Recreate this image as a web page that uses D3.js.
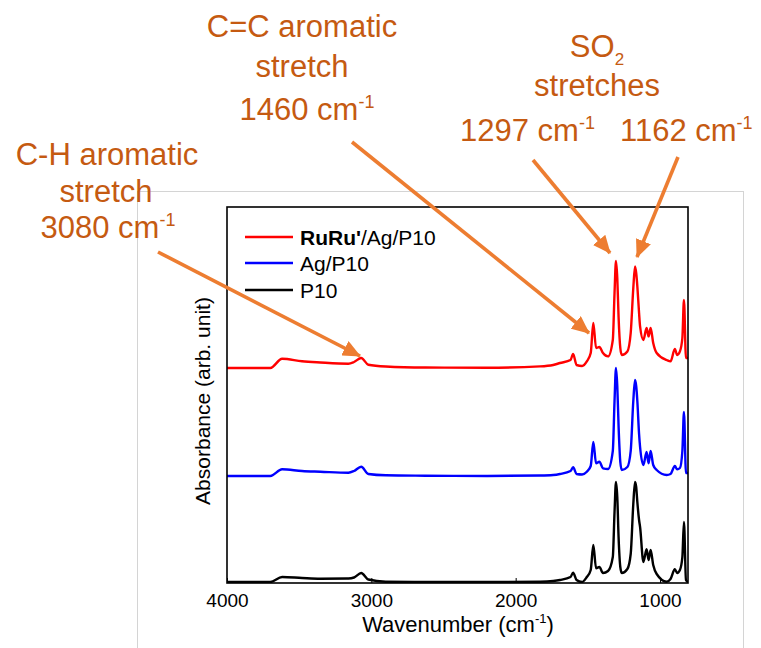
<!DOCTYPE html>
<html>
<head>
<meta charset="utf-8">
<script src="https://cdn.jsdelivr.net/npm/d3@7"></script>
<style>
  body { margin: 0; background: #fff; }
  svg text { font-family: "Liberation Sans", Arial, sans-serif; }
</style>
</head>
<body>
<div id="vis"></div>
<script>
// wavenumbers (cm-1) shared by the three spectra
var wavenumber = [4000, 3700, 3618, 3480, 3353, 3159, 3120, 3070, 3021, 2900, 2626, 2200,
  1831, 1740, 1693, 1620, 1602, 1578, 1540, 1507, 1480, 1462, 1443, 1420, 1395, 1360,
  1327, 1315, 1305, 1296, 1287, 1275, 1265, 1226, 1203, 1185, 1173, 1165, 1157, 1145,
  1138, 1115, 1093, 1079, 1065, 1047, 1023, 954, 927, 897, 881, 862, 845, 834, 820, 806];

// absorbance (arb. unit), before stacking
var ruru = [0, 0, 9.3, 6.7, 5.5, 4.3, 6, 10, 3.3, 1.5, 0.5, 0.3,
  1.6, 3, 5, 8, 14, 3, 2, 6.6, 15, 45, 20, 21, 15, 11.6,
  28, 75, 107, 90, 51, 20, 13, 16.6, 35, 80, 101.6, 95, 81.6, 55,
  41.6, 28, 40, 31.6, 40, 25, 15, 8, 6.6, 19, 13, 16.6, 30, 68, 10, 10];

var agp10 = [0, 0, 6.7, 5, 4.3, 3.3, 5, 9.3, 2, 0.7, 0.3, 0,
  0.5, 1, 2, 5, 8.7, 2, 1.5, 4.3, 10, 34, 12.7, 14.3, 7.7, 7,
  25, 75, 108, 90, 50, 14, 6, 9, 25, 75, 96, 90, 75, 42,
  29, 11, 24, 12.7, 25, 11, 6, 1, 2, 10, 6.7, 8, 25, 64, 3, 3];

var p10 = [0, 0, 5, 4, 3.3, 3.5, 4.5, 9, 2.5, 0.3, 0, 0,
  0.3, 1, 2, 5, 9.3, 2, 0, 5, 12, 37, 13.7, 15, 9, 11,
  25, 70, 100, 85, 45, 15, 9, 13, 28, 78, 100, 95, 80, 62,
  55, 20, 32.7, 22, 32, 17, 8, 0.3, 3, 12.7, 9, 12, 25, 60, 2, 0];

var seriesNames = ["RuRu'/Ag/P10", "Ag/P10", "P10"];
var seriesColors = ["#ff0000", "#0000ff", "#000000"];
var offsets = [215, 107, 1];
var xTicks = [4000, 3000, 2000, 1000];

var width = 761, height = 648;
var margin = { top: 207, left: 227, right: 73, bottom: 65 };
var plotW = width - margin.left - margin.right;
var plotH = height - margin.top - margin.bottom;

var svg = d3.select("#vis").append("svg")
    .attr("width", width)
    .attr("height", height);

// faint frame of the pasted chart
svg.append("rect")
    .attr("x", 137.5).attr("y", 191.5)
    .attr("width", 606).attr("height", 470)
    .attr("fill", "none")
    .attr("stroke", "#d4d4d4")
    .attr("stroke-width", 1);

var g = svg.append("g")
    .attr("transform", "translate(" + margin.left + "," + margin.top + ")");

var xscale = d3.scaleLinear().domain([4000, 806]).range([0, plotW]);
var yscale = d3.scaleLinear().domain([0, 376]).range([plotH, 0]);

var spectra = [ruru, agp10, p10];

var line = d3.line()
    .x(function(d) { return xscale(d[0]); })
    .y(function(d) { return yscale(d[1]); })
    .curve(d3.curveMonotoneX);

g.append("clipPath").attr("id", "clip")
  .append("rect").attr("width", plotW).attr("height", plotH);

spectra.forEach(function(s, i) {
    var pts = wavenumber.map(function(w, j) { return [w, s[j] + offsets[i]]; });
    g.append("path")
        .datum(pts)
        .attr("clip-path", "url(#clip)")
        .attr("fill", "none")
        .attr("stroke", seriesColors[i])
        .attr("stroke-width", 2.4)
        .attr("stroke-linejoin", "round")
        .attr("d", line);
});

// x axis, ticks inside
var xaxis = d3.axisBottom(xscale)
    .tickValues(xTicks)
    .tickFormat(d3.format("d"))
    .tickSizeInner(-5)
    .tickSizeOuter(0)
    .tickPadding(11);

var ax = g.append("g")
    .attr("transform", "translate(0," + plotH + ")")
    .call(xaxis);
ax.select(".domain").remove();
ax.selectAll("line").attr("stroke", "#000").attr("stroke-width", 1);
ax.selectAll("text")
    .style("font-size", "19px")
    .style("font-family", '"Liberation Sans", Arial, sans-serif')
    .attr("fill", "#000");

// plot frame
g.append("rect")
    .attr("width", plotW).attr("height", plotH)
    .attr("fill", "none")
    .attr("stroke", "#000")
    .attr("stroke-width", 1.6);

// axis titles
var xt = svg.append("text")
    .attr("x", 458).attr("y", 632)
    .attr("text-anchor", "middle")
    .style("font-size", "22px")
    .text("Wavenumber (cm");
xt.append("tspan").attr("dy", -9).style("font-size", "13px").text("-1");
xt.append("tspan").attr("dy", 9).text(")");

svg.append("text")
    .attr("transform", "translate(210,401) rotate(-90)")
    .attr("text-anchor", "middle")
    .style("font-size", "21px")
    .text("Absorbance (arb. unit)");

// legend
var legendY = [237, 263, 290];
seriesNames.forEach(function(n, i) {
    svg.append("line")
        .attr("x1", 245).attr("x2", 293)
        .attr("y1", legendY[i]).attr("y2", legendY[i])
        .attr("stroke", seriesColors[i])
        .attr("stroke-width", 2.4);
    var t = svg.append("text")
        .attr("x", 300).attr("y", legendY[i] + 8)
        .style("font-size", "21px");
    if (i === 0) {
        t.append("tspan").style("font-weight", "bold").text("RuRu'");
        t.append("tspan").text("/Ag/P10");
    } else {
        t.text(n);
    }
});

// annotations
var orange = "#ED7D31", brown = "#C55A11";

svg.append("defs").append("marker")
    .attr("id", "head")
    .attr("markerUnits", "userSpaceOnUse")
    .attr("viewBox", "0 0 18 16")
    .attr("markerWidth", 18).attr("markerHeight", 16)
    .attr("refX", 17).attr("refY", 8)
    .attr("orient", "auto")
  .append("path")
    .attr("d", "M0,0 L18,8 L0,16 Z")
    .attr("fill", orange);

var arrows = [
    [158, 252, 360, 356],
    [352, 142, 589, 333],
    [533, 160, 610, 253],
    [678, 157, 637, 257]
];
arrows.forEach(function(a) {
    svg.append("line")
        .attr("x1", a[0]).attr("y1", a[1])
        .attr("x2", a[2]).attr("y2", a[3])
        .attr("stroke", orange)
        .attr("stroke-width", 3.6)
        .attr("marker-end", "url(#head)");
});

function label(x, y, txt, sup, anchor) {
    var t = svg.append("text")
        .attr("x", x).attr("y", y)
        .attr("text-anchor", anchor || "middle")
        .attr("fill", brown)
        .style("font-size", "31px")
        .text(txt);
    if (sup) t.append("tspan").attr("dy", -12).style("font-size", "18px").text(sup);
    return t;
}

label(302, 37, "C=C aromatic");
label(302, 77, "stretch");
label(307, 120, "1460 cm", "-1");

label(107, 165, "C-H aromatic");
label(106, 202, "stretch");
label(108, 238, "3080 cm", "-1");

var so = label(597, 57, "SO");
so.append("tspan").attr("dy", 8).style("font-size", "17px").text("2");
label(597, 96, "stretches");
label(460, 141, "1297 cm", "-1", "start");
label(620, 141, "1162 cm", "-1", "start");
</script>
</body>
</html>
